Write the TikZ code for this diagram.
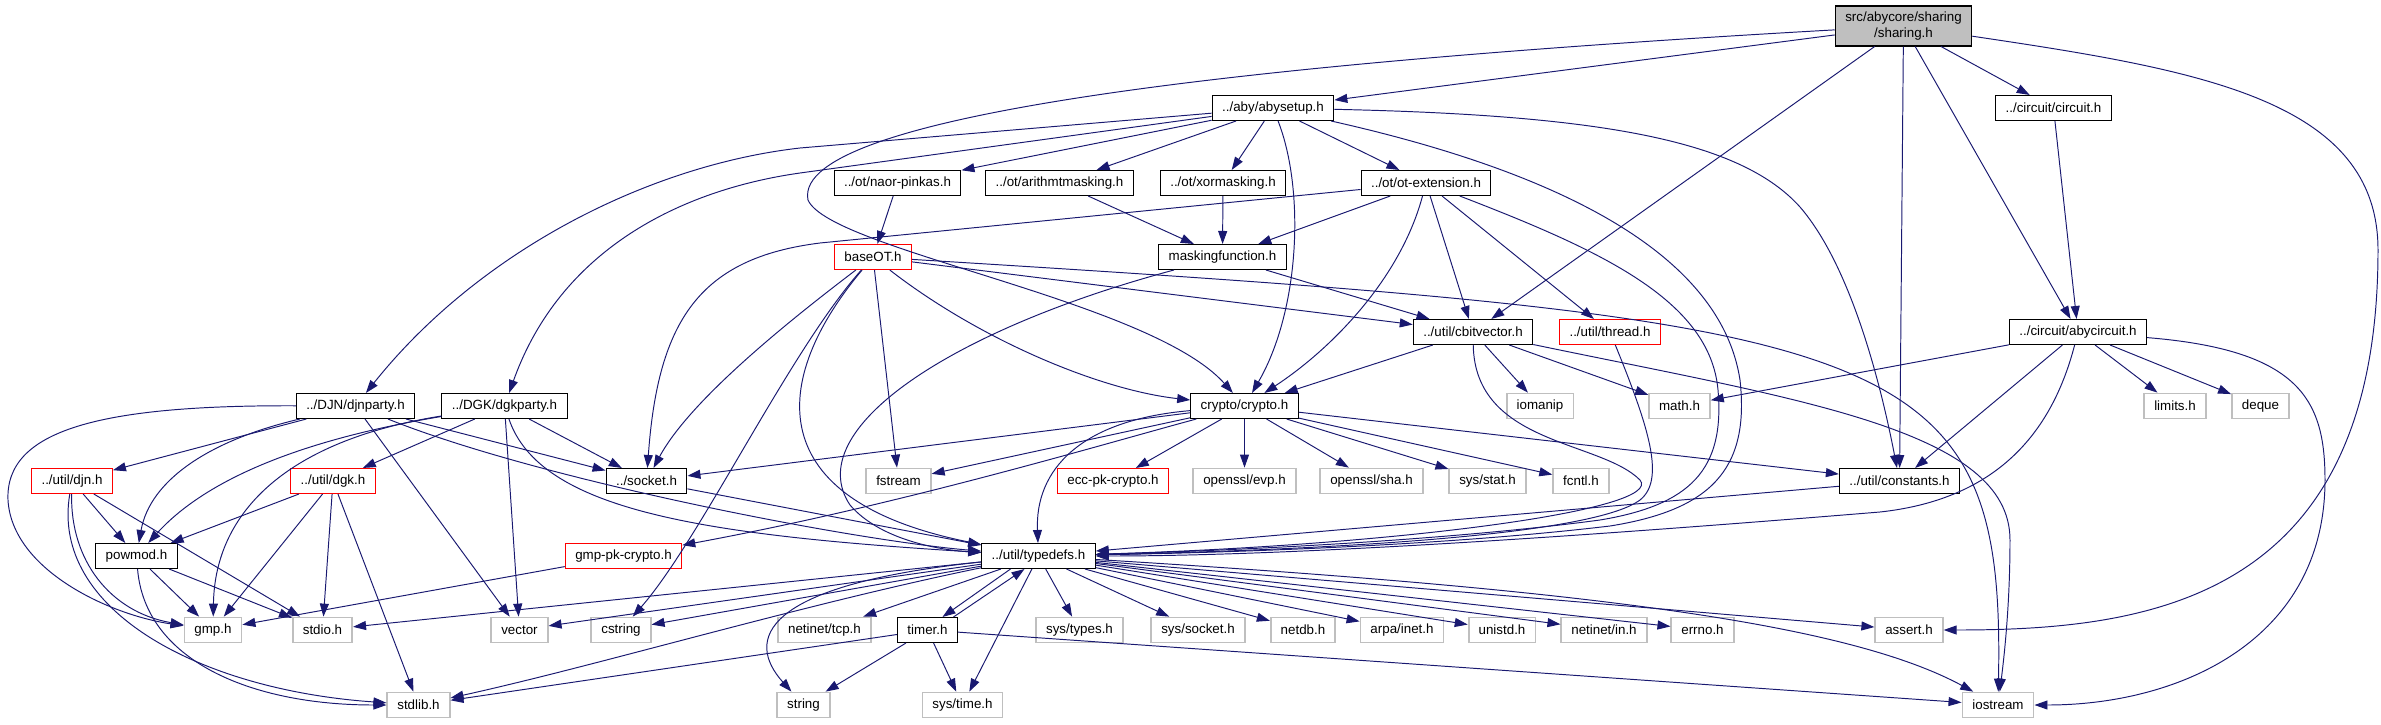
\documentclass[tikz,border=0pt]{standalone}
\usepackage{fontspec}
\setmainfont{Liberation Sans}
\definecolor{abyEdge}{HTML}{191970}
\definecolor{abyGray}{HTML}{BFBFBF}
\definecolor{abyRed}{HTML}{FF0000}
\usetikzlibrary{
	arrows.meta,
	calc
}

\begin{document}
\begin{tikzpicture}[x=0.02cm, y=-0.02cm,
		box/.style={rectangle, draw=black, fill=white, line width=0.6pt, inner xsep=0.2cm, inner ysep=0pt, minimum height=0.5cm, font=\fontsize{7.6}{9.1}\selectfont},
		sysbox/.style={box, draw=abyGray, line width=1pt},
		redbox/.style={box, draw=abyRed},
		rootbox/.style={box, fill=abyGray, align=center, minimum height=0.8cm},
		arrow/.style={-{Triangle[length=0.26cm, width=0.18cm]}, draw=abyEdge, line width=0.55pt}
	]
		\useasboundingbox (0,0) rectangle (2381,724);
		\node[rootbox] (sharing) at (1903.5,26) {src/abycore/sharing\\/sharing.h};
		\node[box] (abysetup) at (1273,108) {../aby/abysetup.h};
		\node[box] (circuit) at (2053.5,108) {../circuit/circuit.h};
		\node[box] (naorpinkas) at (897.5,183) {../ot/naor-pinkas.h};
		\node[box] (arithmasking) at (1059.5,183) {../ot/arithmtmasking.h};
		\node[box] (xormasking) at (1223,183) {../ot/xormasking.h};
		\node[box] (otext) at (1426,183) {../ot/ot-extension.h};
		\node[redbox] (baseot) at (873,257) {baseOT.h};
		\node[box] (masking) at (1222.5,257) {maskingfunction.h};
		\node[box] (cbitvector) at (1473,332) {../util/cbitvector.h};
		\node[redbox] (thread) at (1610,332) {../util/thread.h};
		\node[box] (abycircuit) at (2078,332) {../circuit/abycircuit.h};
		\node[box] (djnparty) at (355.5,406) {../DJN/djnparty.h};
		\node[box] (dgkparty) at (504.5,406) {../DGK/dgkparty.h};
		\node[box] (crypto) at (1244.5,406) {crypto/crypto.h};
		\node[sysbox] (iomanip) at (1540,406) {iomanip};
		\node[sysbox] (math) at (1679.5,406) {math.h};
		\node[sysbox] (limits) at (2175,406) {limits.h};
		\node[sysbox] (deque) at (2260.5,406) {deque};
		\node[redbox] (djn) at (72,481) {../util/djn.h};
		\node[redbox] (dgk) at (333,481) {../util/dgk.h};
		\node[box] (socket) at (646.5,481) {../socket.h};
		\node[sysbox] (fstream) at (898.5,481) {fstream};
		\node[redbox] (ecc) at (1113,481) {ecc-pk-crypto.h};
		\node[sysbox] (evp) at (1244.5,481) {openssl/evp.h};
		\node[sysbox] (sha) at (1371.5,481) {openssl/sha.h};
		\node[sysbox] (sysstat) at (1487.5,481) {sys/stat.h};
		\node[sysbox] (fcntl) at (1581,481) {fcntl.h};
		\node[box] (constants) at (1899.5,481) {../util/constants.h};
		\node[box] (powmod) at (136.5,556) {powmod.h};
		\node[redbox] (gmpcrypto) at (623.5,556) {gmp-pk-crypto.h};
		\node[box] (typedefs) at (1038.5,556) {../util/typedefs.h};
		\node[sysbox] (gmp) at (213,630) {gmp.h};
		\node[sysbox] (stdio) at (322.5,630) {stdio.h};
		\node[sysbox] (vector) at (519.5,630) {vector};
		\node[sysbox] (cstring) at (621,630) {cstring};
		\node[sysbox] (tcp) at (824.5,630) {netinet/tcp.h};
		\node[box] (timer) at (927.5,630) {timer.h};
		\node[sysbox] (systypes) at (1079.5,630) {sys/types.h};
		\node[sysbox] (syssocket) at (1198,630) {sys/socket.h};
		\node[sysbox] (netdb) at (1303,630) {netdb.h};
		\node[sysbox] (arpainet) at (1402,630) {arpa/inet.h};
		\node[sysbox] (unistd) at (1502,630) {unistd.h};
		\node[sysbox] (netinetin) at (1604,630) {netinet/in.h};
		\node[sysbox] (errno) at (1702.5,630) {errno.h};
		\node[sysbox] (assert) at (1909,630) {assert.h};
		\node[sysbox] (stdlib) at (418.5,705) {stdlib.h};
		\node[sysbox] (string) at (803.5,705) {string};
		\node[sysbox] (systime) at (962.5,705) {sys/time.h};
		\node[sysbox] (iostream) at (1998,705) {iostream};
		% sharing.h
		\draw[arrow] (sharing) -- (abysetup);
		\draw[arrow] (sharing) .. controls (1300,60) and (790,110) .. (808,200) .. controls (830,250) and (1150,300) .. (crypto);
		\draw[arrow] (sharing) -- (cbitvector);
		\draw[arrow] (sharing) -- (constants);
		\draw[arrow] (sharing) -- (circuit);
		\draw[arrow] (sharing) -- (abycircuit);
		\draw[arrow] (sharing) .. controls (2200,70) and (2378,100) .. (2378,250) .. controls (2378,600) and (2150,630) .. (assert);
		% abysetup.h
		\draw[arrow] (abysetup) -- (800,148) .. controls (650,165) and (480,250) .. (djnparty);
		\draw[arrow] (abysetup) -- (800,173) .. controls (680,190) and (560,250) .. (dgkparty);
		\draw[arrow] (abysetup) -- (naorpinkas);
		\draw[arrow] (abysetup) -- (arithmasking);
		\draw[arrow] (abysetup) -- (xormasking);
		\draw[arrow] (abysetup) -- (otext);
		\draw[arrow] (abysetup) .. controls (1305,190) and (1300,310) .. (crypto);
		\draw[arrow] (abysetup) .. controls (1600,115) and (1740,140) .. (1800,207) .. controls (1850,265) and (1880,380) .. (constants);
		\draw[arrow] (abysetup) .. controls (1550,170) and (1720,250) .. (1740,380) .. controls (1750,470) and (1710,510) .. (1610,526) .. controls (1450,545) and (1250,552) .. (typedefs);
		\draw[arrow] (circuit) -- (abycircuit);
		\draw[arrow] (naorpinkas) -- (baseot);
		\draw[arrow] (arithmasking) -- (masking);
		\draw[arrow] (xormasking) -- (masking);
		% ot-extension.h
		\draw[arrow] (otext) -- (820,243) .. controls (700,258) and (658,320) .. (socket);
		\draw[arrow] (otext) -- (masking);
		\draw[arrow] (otext) .. controls (1400,280) and (1330,350) .. (crypto);
		\draw[arrow] (otext) -- (cbitvector);
		\draw[arrow] (otext) -- (thread);
		\draw[arrow] (otext) .. controls (1600,250) and (1710,300) .. (1718,390) .. controls (1725,470) and (1690,505) .. (1600,520) .. controls (1450,540) and (1250,550) .. (typedefs);
		% baseOT.h
		\draw[arrow] (baseot) .. controls (790,320) and (690,400) .. (socket);
		\draw[arrow] (baseot) .. controls (790,350) and (700,540) .. (cstring);
		\draw[arrow] (baseot) .. controls (770,380) and (760,500) .. (typedefs);
		\draw[arrow] (baseot) -- (fstream);
		\draw[arrow] (baseot) .. controls (980,340) and (1100,390) .. (crypto);
		\draw[arrow] (baseot) -- (cbitvector);
		\draw[arrow] (baseot) .. controls (1900,320) and (2005,340) .. (iostream);
		% maskingfunction.h
		\draw[arrow] (masking) -- (cbitvector);
		\draw[arrow] (masking) .. controls (950,330) and (800,430) .. (850,505) .. controls (880,540) and (940,550) .. (typedefs);
		% cbitvector.h
		\draw[arrow] (cbitvector) -- (crypto);
		\draw[arrow] (cbitvector) -- (iomanip);
		\draw[arrow] (cbitvector) -- (math);
		\draw[arrow] (cbitvector) .. controls (1800,400) and (2010,430) .. (2010,540) .. controls (2010,600) and (2005,650) .. (iostream);
		\draw[arrow] (cbitvector) .. controls (1475,445) and (1600,440) .. (1640,480) .. controls (1665,510) and (1400,545) .. (typedefs);
		\draw[arrow] (thread) .. controls (1650,430) and (1665,480) .. (1640,500) .. controls (1600,530) and (1400,548) .. (typedefs);
		% abycircuit.h
		\draw[arrow] (abycircuit) -- (math);
		\draw[arrow] (abycircuit) -- (constants);
		\draw[arrow] (abycircuit) -- (limits);
		\draw[arrow] (abycircuit) -- (deque);
		\draw[arrow] (abycircuit) .. controls (2050,440) and (1990,500) .. (1880,512) .. controls (1600,535) and (1300,556) .. (typedefs);
		\draw[arrow] (abycircuit) .. controls (2300,350) and (2325,400) .. (2325,480) .. controls (2325,640) and (2180,705) .. (iostream);
		% crypto.h
		\draw[arrow] (crypto) -- (socket);
		\draw[arrow] (crypto) -- (fstream);
		\draw[arrow] (crypto) -- (ecc);
		\draw[arrow] (crypto) -- (evp);
		\draw[arrow] (crypto) -- (sha);
		\draw[arrow] (crypto) -- (sysstat);
		\draw[arrow] (crypto) -- (fcntl);
		\draw[arrow] (crypto) -- (constants);
		\draw[arrow] (crypto) .. controls (1080,420) and (1035,470) .. (typedefs);
		\draw[arrow] (crypto) .. controls (1100,445) and (900,505) .. (gmpcrypto);
		\draw[arrow] (socket) -- (typedefs);
		% djnparty.h, dgkparty.h
		\draw[arrow] (djnparty) .. controls (100,405) and (5,430) .. (8,500) .. controls (12,570) and (110,615) .. (gmp);
		\draw[arrow] (djnparty) .. controls (210,440) and (150,480) .. (powmod);
		\draw[arrow] (djnparty) -- (djn);
		\draw[arrow] (djnparty) -- (vector);
		\draw[arrow] (djnparty) -- (socket);
		\draw[arrow] (djnparty) .. controls (540,480) and (850,540) .. (typedefs);
		\draw[arrow] (dgkparty) .. controls (300,440) and (205,480) .. (powmod);
		\draw[arrow] (dgkparty) .. controls (290,440) and (215,510) .. (gmp);
		\draw[arrow] (dgkparty) -- (dgk);
		\draw[arrow] (dgkparty) -- (vector);
		\draw[arrow] (dgkparty) -- (socket);
		\draw[arrow] (dgkparty) .. controls (540,510) and (700,535) .. (typedefs);
		% djn.h, dgk.h, powmod.h
		\draw[arrow] (djn) -- (powmod);
		\draw[arrow] (djn) -- (stdio);
		\draw[arrow] (djn) .. controls (70,560) and (110,612) .. (gmp);
		\draw[arrow] (djn) .. controls (50,610) and (200,690) .. (stdlib);
		\draw[arrow] (dgk) -- (powmod);
		\draw[arrow] (dgk) -- (gmp);
		\draw[arrow] (dgk) -- (stdio);
		\draw[arrow] (dgk) -- (stdlib);
		\draw[arrow] (powmod) -- (gmp);
		\draw[arrow] (powmod) -- (stdio);
		\draw[arrow] (powmod) .. controls (145,660) and (250,705) .. (stdlib);
		\draw[arrow] (gmpcrypto) -- (gmp);
		% typedefs.h
		\draw[arrow] (typedefs) -- (stdio);
		\draw[arrow] (typedefs) -- (vector);
		\draw[arrow] (typedefs) -- (cstring);
		\draw[arrow] (typedefs) .. controls (800,605) and (600,665) .. (stdlib);
		\draw[arrow] (typedefs) .. controls (760,585) and (745,640) .. (string);
		\draw[arrow] (typedefs) -- (tcp);
		\draw[arrow] ($(typedefs.south)+(-28,0)$) -- ($(timer.north)+(15,0)$);
		\draw[arrow] (typedefs) -- (systime);
		\draw[arrow] (typedefs) -- (systypes);
		\draw[arrow] (typedefs) -- (syssocket);
		\draw[arrow] (typedefs) -- (netdb);
		\draw[arrow] (typedefs) -- (arpainet);
		\draw[arrow] (typedefs) -- (unistd);
		\draw[arrow] (typedefs) -- (netinetin);
		\draw[arrow] (typedefs) -- (errno);
		\draw[arrow] (typedefs) -- (assert);
		\draw[arrow] (typedefs) .. controls (1600,590) and (1850,625) .. (iostream);
		\draw[arrow] (constants) -- (typedefs);
		% timer.h
		\draw[arrow] ($(timer.north)+(26,0)$) -- ($(typedefs.south)+(-14,0)$);
		\draw[arrow] (timer) -- (string);
		\draw[arrow] (timer) -- (systime);
		\draw[arrow] (timer) -- (stdlib);
		\draw[arrow] (timer) -- (iostream);
	\end{tikzpicture}
\end{document}
